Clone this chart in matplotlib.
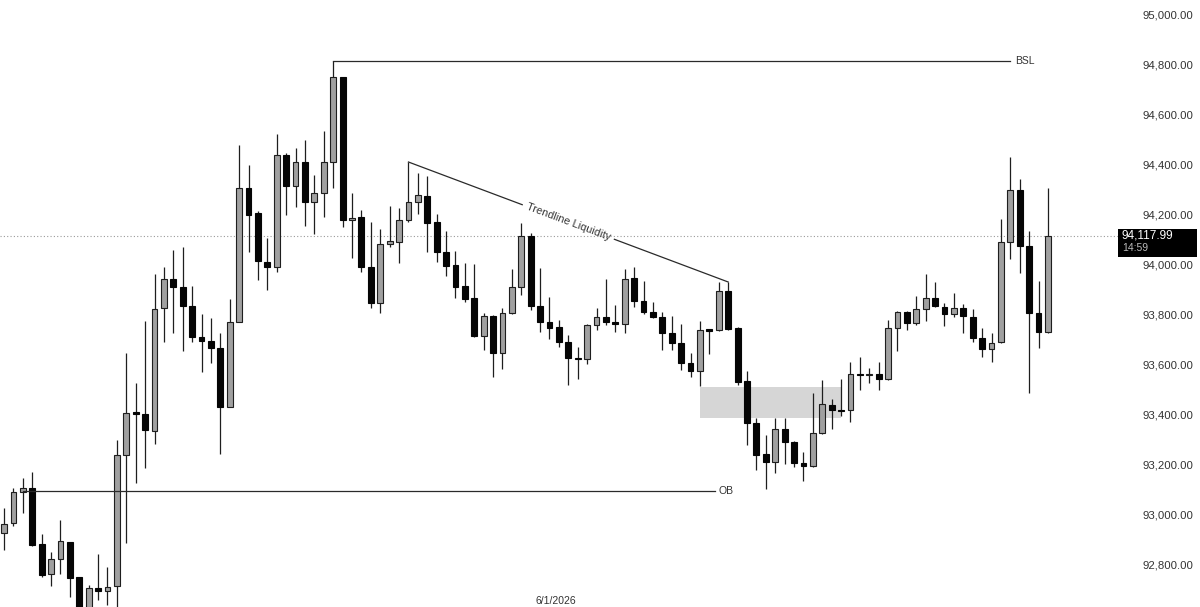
import numpy as np
import matplotlib
matplotlib.use('Agg')
import matplotlib.pyplot as plt
from matplotlib.patches import Rectangle
from matplotlib.ticker import FuncFormatter

plt.rcParams['font.family'] = ['Liberation Sans', 'DejaVu Sans']

# OHLC (15 min candles)
opens = [92928, 92968, 93092, 93108, 92884, 92764, 92824, 92892, 92752, 92612,
         92708, 92696, 92716, 93240, 93412, 93404, 93336, 93828, 93944, 93912,
         93836, 93712, 93696, 93668, 93432, 93772, 94308, 94208, 94012, 93992,
         94440, 94316, 94412, 94252, 94288, 94412, 94752, 94180, 94192, 93992,
         93848, 94084, 94092, 94180, 94252, 94276, 94172, 94052, 94000, 93916,
         93868, 93716, 93796, 93648, 93808, 93912, 94116, 93836, 93772, 93752,
         93692, 93628, 93624, 93760, 93792, 93772, 93764, 93948, 93856, 93812,
         93792, 93728, 93688, 93608, 93576, 93744, 93740, 93896, 93748, 93536,
         93368, 93244, 93212, 93344, 93292, 93208, 93196, 93328, 93440, 93420,
         93420, 93564, 93560, 93564, 93544, 93748, 93812, 93768, 93824, 93868,
         93832, 93804, 93828, 93792, 93708, 93664, 93692, 94092, 94300, 94076,
         93808, 93732]
closes = [92964, 93092, 93108, 92880, 92760, 92824, 92896, 92748, 92600, 92708,
          92696, 92712, 93240, 93408, 93404, 93340, 93824, 93944, 93912, 93836,
          93712, 93696, 93668, 93432, 93772, 94308, 94200, 94016, 93992, 94440,
          94316, 94412, 94252, 94288, 94412, 94752, 94180, 94188, 93992, 93848,
          94084, 94096, 94180, 94252, 94280, 94168, 94052, 93996, 93912, 93864,
          93716, 93796, 93648, 93808, 93912, 94116, 93836, 93772, 93748, 93692,
          93628, 93624, 93760, 93792, 93772, 93764, 93944, 93856, 93812, 93792,
          93728, 93688, 93608, 93576, 93740, 93736, 93896, 93744, 93532, 93368,
          93240, 93212, 93344, 93292, 93208, 93196, 93328, 93444, 93420, 93416,
          93564, 93560, 93564, 93544, 93748, 93812, 93768, 93824, 93868, 93836,
          93804, 93828, 93796, 93708, 93664, 93688, 94092, 94300, 94076, 93808,
          93732, 94117.99]
highs = [93028, 93108, 93148, 93172, 92924, 92852, 92980, 92892, 92752, 92720,
         92844, 92792, 93300, 93648, 93528, 93776, 93964, 93992, 94060, 94072,
         93916, 93804, 93788, 93728, 93864, 94480, 94400, 94216, 94108, 94524,
         94448, 94468, 94500, 94360, 94536, 94816, 94752, 94288, 94220, 94172,
         94144, 94236, 94228, 94412, 94368, 94356, 94204, 94136, 94056, 94008,
         94004, 93808, 93800, 93828, 93984, 94168, 94128, 93988, 93872, 93780,
         93720, 93672, 93764, 93828, 93944, 93840, 93984, 93992, 93936, 93852,
         93812, 93796, 93764, 93648, 93776, 93744, 93932, 93932, 93752, 93576,
         93388, 93320, 93388, 93388, 93296, 93252, 93488, 93540, 93464, 93544,
         93612, 93632, 93588, 93612, 93780, 93816, 93816, 93876, 93964, 93932,
         93848, 93888, 93844, 93824, 93748, 93728, 94184, 94432, 94344, 94136,
         93936, 94308]
lows = [92860, 92956, 93008, 92876, 92752, 92716, 92764, 92672, 92560, 92588,
        92660, 92640, 92612, 92888, 93128, 93188, 93284, 93692, 93728, 93656,
        93692, 93572, 93608, 93244, 93432, 93772, 94052, 93940, 93900, 93972,
        94200, 94232, 94156, 94124, 94192, 94308, 94152, 94028, 93972, 93828,
        93808, 94072, 94008, 94172, 94204, 94052, 94012, 93956, 93868, 93852,
        93712, 93660, 93552, 93584, 93804, 93880, 93820, 93732, 93704, 93672,
        93520, 93544, 93604, 93740, 93760, 93732, 93728, 93832, 93804, 93788,
        93660, 93660, 93580, 93552, 93516, 93644, 93736, 93740, 93520, 93280,
        93180, 93104, 93168, 93204, 93192, 93136, 93192, 93324, 93344, 93396,
        93372, 93500, 93528, 93500, 93540, 93656, 93740, 93760, 93776, 93832,
        93756, 93792, 93728, 93692, 93632, 93612, 93688, 94024, 93968, 93488,
        93668, 93728]

y_ticks = [92800, 93000, 93200, 93400, 93600, 93800, 94000, 94200, 94400, 94600, 94800, 95000]
last_price = 94117.99
last_time = '14:59'
date_label = '6/1/2026'

bsl_price = 94816
bsl_start, bsl_end = 35, 107
ob_price = 93096
ob_start, ob_end = 2, 75.6
trend_pts = [(43, 94412), (77, 93932)]
zone = (74, 89, 93388, 93512)

W, H = 1200, 607
fig = plt.figure(figsize=(W / 100, H / 100), dpi=100)
ax = fig.add_axes([0, 0, 1110 / W, 1])

idx = np.arange(len(opens))
o = np.array(opens)
c = np.array(closes)
up = c >= o

ax.set_xlim(-0.43, 117.6)
ax.set_ylim(92632, 95060)

# zone
ax.add_patch(Rectangle((zone[0], zone[2]), zone[1] - zone[0], zone[3] - zone[2],
                       facecolor='#d6d6d6', edgecolor='none', zorder=1))

# wicks and bodies
ax.vlines(idx, lows, highs, color='#1e1e1e', lw=0.9, zorder=2)
bottom = np.minimum(o, c)
height = np.maximum(np.abs(c - o), 6)
ax.bar(idx[up], height[up], bottom=bottom[up], width=0.62,
       color='#a0a0a0', edgecolor='#1e1e1e', linewidth=0.8, zorder=3)
ax.bar(idx[~up], height[~up], bottom=bottom[~up], width=0.62,
       color='#050505', edgecolor='#050505', linewidth=0.8, zorder=3)

# last price line
ax.plot([-0.43, 118.45], [last_price, last_price], color='#9a9a9a', lw=0.8,
        ls=(0, (1, 2)), clip_on=False, zorder=1)

# BSL
ax.plot([bsl_start, bsl_end], [bsl_price, bsl_price], color='#2a2a2a', lw=0.9, zorder=4)
ax.text(bsl_end + 0.5, bsl_price, 'BSL', fontsize=7.5, color='#333333',
        va='center', ha='left')

# OB
ax.plot([ob_start, ob_end], [ob_price, ob_price], color='#2a2a2a', lw=0.9, zorder=4)
ax.text(ob_end + 0.4, ob_price, 'OB', fontsize=7.5, color='#333333',
        va='center', ha='left')

# trendline with a gap for the label
(x0, y0), (x1, y1) = trend_pts
xm = (x0 + x1) / 2
ym = (y0 + y1) / 2
gap = 4.9
slope = (y1 - y0) / (x1 - x0)
ax.plot([x0, xm - gap], [y0, y0 + slope * (xm - gap - x0)], color='#2a2a2a', lw=0.9, zorder=4)
ax.plot([xm + gap, x1], [y0 + slope * (xm + gap - x0), y1], color='#2a2a2a', lw=0.9, zorder=4)
p0 = ax.transData.transform((x0, y0))
p1 = ax.transData.transform((x1, y1))
ang = np.degrees(np.arctan2(p1[1] - p0[1], p1[0] - p0[0]))
ax.text(xm, ym, 'Trendline Liquidity', fontsize=7.8, color='#333333',
        rotation=ang, rotation_mode='anchor', ha='center', va='center')

# price axis
ax.yaxis.tick_right()
ax.set_yticks(y_ticks)
ax.yaxis.set_major_formatter(FuncFormatter(lambda v, p: f'{v:,.2f}'))
ax.tick_params(axis='y', length=0, pad=23.5, labelsize=8.2, labelcolor='#333333')
ax.set_xticks([])
for s in ax.spines.values():
    s.set_visible(False)

# last price tag
fig.patches.append(Rectangle((1118 / W, 1 - 257 / H), 79 / W, 28 / H,
                             transform=fig.transFigure, facecolor='black',
                             edgecolor='none'))
fig.text(1122 / W, 1 - 236 / H, f'{last_price:,.2f}', color='white', fontsize=8.5,
         va='center', ha='left')
fig.text(1122 / W, 1 - 248 / H, last_time, color='#bbbbbb', fontsize=7.5,
         va='center', ha='left')

fig.text(556 / W, 1 / H, date_label, color='#333333', fontsize=7.5,
         va='bottom', ha='center')

fig.savefig('out.png', dpi=100)
